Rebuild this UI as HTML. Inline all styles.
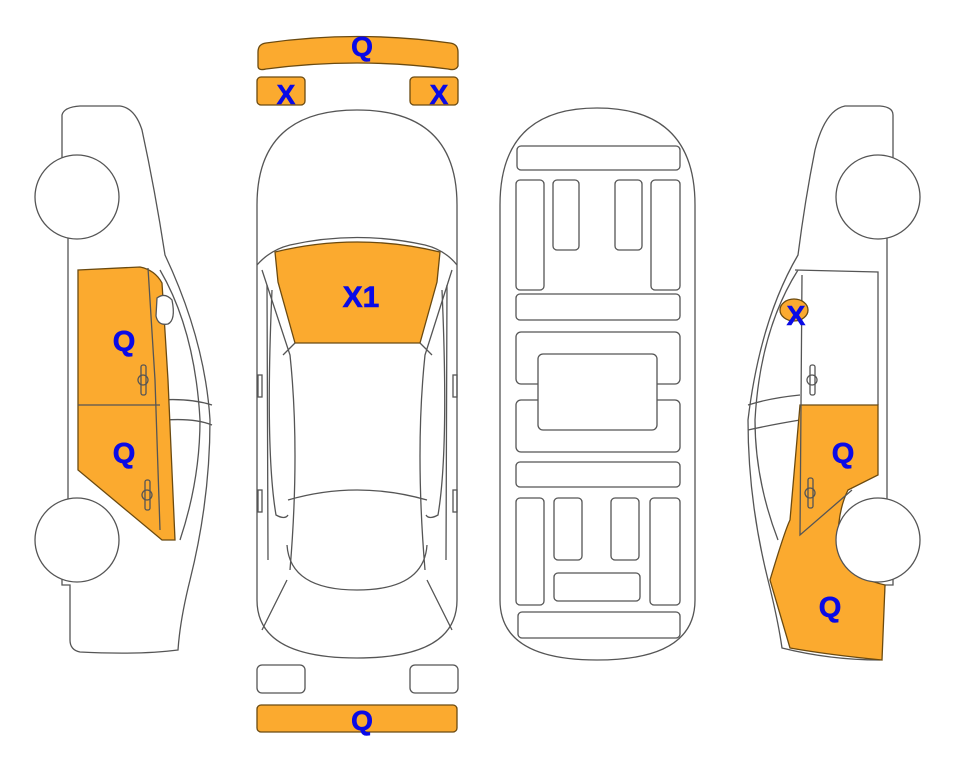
<!DOCTYPE html>
<html><head><meta charset="utf-8"><style>
html,body{margin:0;padding:0;background:#fff;}
svg{display:block}
text{font-family:"Liberation Sans",Arial,sans-serif;font-weight:bold;fill:#0a0ae6;text-anchor:middle;stroke:#0a0ae6;stroke-width:0.6}
</style></head><body>
<svg width="963" height="768" viewBox="0 0 963 768" xmlns="http://www.w3.org/2000/svg">
<g stroke="#555" stroke-width="1.3" fill="none">
<path d="M258,52 Q258,44 266,43 Q357,30 450,43 Q458,44 458,52 L458,66 Q456,71 448,69 Q357,57 266,69 Q258,71 258,66 Z" fill="#fbaa2f" stroke="#6b4a10"/>
<rect x="257" y="77" width="48" height="28" rx="4" fill="#fbaa2f" stroke="#6b4a10"/>
<rect x="410" y="77" width="48" height="28" rx="4" fill="#fbaa2f" stroke="#6b4a10"/>
<rect x="257" y="665" width="48" height="28" rx="5"/>
<rect x="410" y="665" width="48" height="28" rx="5"/>
<rect x="257" y="705" width="200" height="27" rx="4" fill="#fbaa2f" stroke="#6b4a10"/>

<path d="M257,205 Q257,110 357,110 Q457,110 457,205 L457,600 Q457,658 357,658 Q257,658 257,600 Z"/>
<path d="M257,265 Q270,250 290,245 Q357,230 425,245 Q445,250 457,265"/>
<path d="M275,252 Q357,232 440,252 L437,282 L420,343 L295,343 L278,282 Z" fill="#fbaa2f" stroke="#6b4a10"/>
<path d="M262,270 L290,355 Q300,450 290,570 M452,270 L425,355 Q415,450 425,570"/>
<path d="M295,343 L283,355 M420,343 L432,355"/>
<path d="M267,285 L268,560 M447,285 L446,560"/>
<path d="M272,290 Q265,450 276,515 Q285,520 288,515 M442,290 Q449,450 438,515 Q429,520 426,515"/>
<path d="M288,500 Q357,480 427,500"/>
<path d="M287,545 Q290,590 357,590 Q424,590 427,545"/>
<path d="M262,630 L287,580 M452,630 L427,580"/>
<rect x="258" y="375" width="4" height="22"/><rect x="453" y="375" width="4" height="22"/>
<rect x="258" y="490" width="4" height="22"/><rect x="453" y="490" width="4" height="22"/>

<path d="M500,205 Q500,108 597,108 Q695,108 695,205 L695,600 Q695,660 597,660 Q500,660 500,600 Z"/>
<rect x="517" y="146" width="163" height="24" rx="4"/>
<rect x="516" y="180" width="28" height="110" rx="4"/>
<rect x="553" y="180" width="26" height="70" rx="4"/>
<rect x="615" y="180" width="27" height="70" rx="4"/>
<rect x="651" y="180" width="29" height="110" rx="4"/>
<rect x="516" y="294" width="164" height="26" rx="4"/>
<rect x="516" y="332" width="164" height="52" rx="5"/>
<rect x="516" y="400" width="164" height="52" rx="5"/>
<rect x="538" y="354" width="119" height="76" rx="5" fill="#fff"/>
<rect x="516" y="462" width="164" height="25" rx="4"/>
<rect x="516" y="498" width="28" height="107" rx="4"/>
<rect x="554" y="498" width="28" height="62" rx="4"/>
<rect x="611" y="498" width="28" height="62" rx="4"/>
<rect x="650" y="498" width="30" height="107" rx="4"/>
<rect x="554" y="573" width="86" height="28" rx="4"/>
<rect x="518" y="612" width="162" height="26" rx="4"/>

<path d="M62,115 Q64,107 80,106 L120,106 Q135,108 142,130 Q155,190 165,255 Q205,340 210,420 Q210,500 190,580 Q180,620 178,650 Q140,655 80,652 Q70,650 70,640 L70,585 L62,585 L62,510 L68,510 L68,235 L62,235 Z"/>
<circle cx="77" cy="197" r="42" fill="#fff"/>
<circle cx="77" cy="540" r="42" fill="#fff"/>
<path d="M160,270 Q195,330 200,420 Q200,480 180,540"/>
<path d="M160,400 Q190,398 212,405 M165,420 Q195,418 212,425"/>
<path d="M78,270 L140,267 Q155,270 162,283 L168,380 L175,540 L162,540 L78,470 Z" fill="#fbaa2f" stroke="#6b4a10"/>
<path d="M78,405 L160,405 M148,268 L155,380 L160,530"/>
<path d="M157,298 Q165,292 172,300 Q176,320 168,324 Q158,326 156,316 Z" fill="#fff"/>
<rect x="141" y="365" width="5" height="30" rx="2"/><circle cx="143" cy="380" r="5"/>
<rect x="145" y="480" width="5" height="30" rx="2"/><circle cx="147" cy="495" r="5"/>

<path d="M893,115 Q893,107 880,106 L845,106 Q825,110 815,150 Q805,200 798,255 Q760,320 748,420 Q748,500 768,580 Q778,620 782,648 Q830,660 880,660 L885,585 L893,585 L893,510 L887,510 L887,235 L893,235 Z"/>
<circle cx="878" cy="197" r="42" fill="#fff"/>
<path d="M798,270 Q760,330 755,420 Q755,480 778,540 M795,270 L878,272 L878,405"/>
<path d="M748,405 Q770,398 800,395 M748,430 Q770,425 800,420"/>
<path d="M800,405 L878,405 L878,475 L848,490 Q838,510 838,540 Q840,575 885,585 L882,660 Q830,655 790,648 L770,580 Q785,530 790,520 Z" fill="#fbaa2f" stroke="#6b4a10"/>
<path d="M802,275 L800,535 L852,490"/>
<circle cx="878" cy="540" r="42" fill="#fff"/>
<ellipse cx="794" cy="310" rx="14" ry="11" fill="#fbaa2f" stroke="#6b4a10"/>
<rect x="810" y="365" width="5" height="30" rx="2"/><circle cx="812" cy="380" r="5"/>
<rect x="808" y="478" width="5" height="30" rx="2"/><circle cx="810" cy="493" r="5"/>
</g>
<text x="362" y="56" font-size="28">Q</text>
<text x="286" y="104" font-size="28">X</text>
<text x="439" y="104" font-size="28">X</text>
<text x="362" y="730" font-size="28">Q</text>
<text x="361" y="307" font-size="30">X1</text>
<text x="124" y="351" font-size="29">Q</text>
<text x="124" y="463" font-size="29">Q</text>
<text x="796" y="325" font-size="28">X</text>
<text x="843" y="463" font-size="29">Q</text>
<text x="830" y="617" font-size="29">Q</text>
</svg>
</body></html>
